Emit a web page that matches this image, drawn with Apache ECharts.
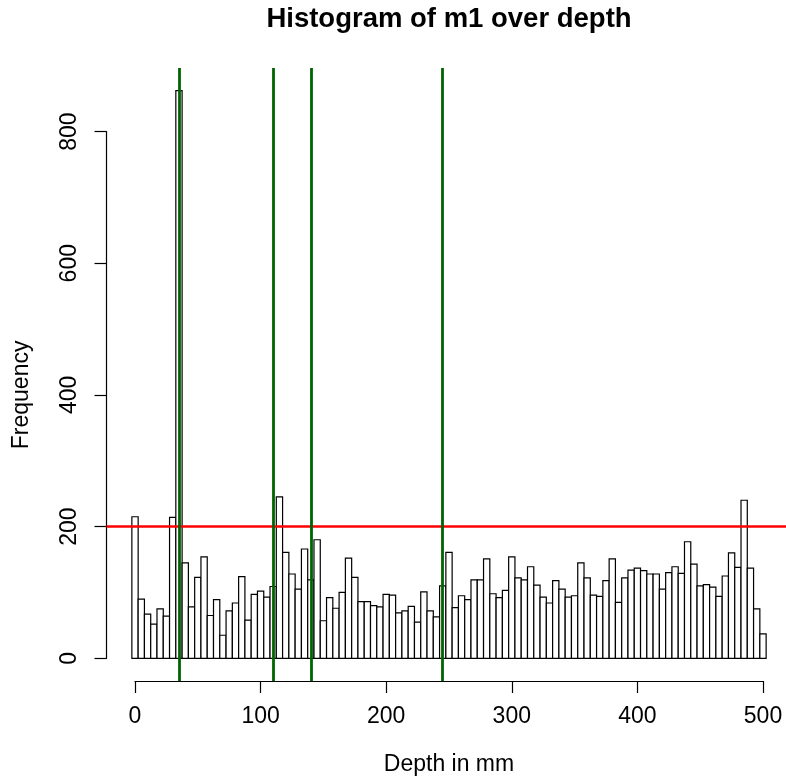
<!DOCTYPE html>
<html>
<head>
<meta charset="utf-8">
<script src="https://cdn.jsdelivr.net/npm/echarts@6/dist/echarts.min.js"></script>
<style>
html,body{margin:0;padding:0;background:#fff;}
#chart{width:786px;height:778px;}
</style>
</head>
<body>
<div id="chart"></div>
<script>
// ---- data ----
const titleText = "Histogram of m1 over depth";
const xAxisTitle = "Depth in mm";
const yAxisTitle = "Frequency";
const binWidth = 5;
// bin centers 0,5,...,500
const binCenters = [0,5,10,15,20,25,30,35,40,45,50,55,60,65,70,75,80,85,90,95,
  100,105,110,115,120,125,130,135,140,145,150,155,160,165,170,175,180,185,190,195,
  200,205,210,215,220,225,230,235,240,245,250,255,260,265,270,275,280,285,290,295,
  300,305,310,315,320,325,330,335,340,345,350,355,360,365,370,375,380,385,390,395,
  400,405,410,415,420,425,430,435,440,445,450,455,460,465,470,475,480,485,490,495,500];
const frequencies = [215,90,67,52,75,64,214,862,145,78,123,154,65,89,35,72,84,124,58,97,
  102,93,109,245,161,128,105,166,119,180,57,92,76,100,152,123,86,86,80,78,
  97,96,69,72,79,55,101,72,63,110,161,77,95,89,119,119,151,98,92,103,
  154,122,119,139,111,93,84,118,105,93,95,145,122,96,94,118,151,85,122,134,
  137,133,128,128,105,130,139,129,177,143,110,112,108,94,125,160,138,240,137,75,37];
const hLines = [200];
const vLines = [35, 110, 140, 245];
const xTicks = {min: 0, max: 500, interval: 100};
const yTicks = {min: 0, max: 800, interval: 200};

// ---- layout (plot region like R's usr) ----
const L = 106.5, T = 68, W = 679.5, H = 613;
const sx = 1.25596;           // px per x unit
const xMin = -22.7;
const xUsr = [xMin, xMin + W / sx];
const yUsr = [-34.48, 896.48];
const sy = H / (yUsr[1] - yUsr[0]);
const g1 = {
  left: L + (xTicks.min - xUsr[0]) * sx,
  width: (xTicks.max - xTicks.min) * sx,
  top: T + (yUsr[1] - yTicks.max) * sy,
  height: (yTicks.max - yTicks.min) * sy
};
const xOff = (yTicks.min - yUsr[0]) * sy;
const yOff = (xTicks.min - xUsr[0]) * sx;

const FONT = "'Liberation Sans', Arial, Helvetica, sans-serif";
const chart = echarts.init(document.getElementById('chart'), null, {renderer: 'canvas'});

const histData = binCenters.map((c, i) => [c, frequencies[i]]);

chart.setOption({
  animation: false,
  backgroundColor: '#ffffff',
  graphic: [{
    type: 'text',
    x: 449,
    y: 19,
    style: {
      text: titleText,
      font: "bold 27.5px " + FONT,
      fill: '#000',
      textAlign: 'center',
      textVerticalAlign: 'middle'
    }
  }],
  grid: [
    {left: L, top: T, width: W, height: H, containLabel: false, outerBoundsMode: 'none'},
    {left: g1.left, top: g1.top, width: g1.width, height: g1.height, containLabel: false, outerBoundsMode: 'none'}
  ],
  xAxis: [
    {gridIndex: 0, type: 'value', min: xUsr[0], max: xUsr[1], show: false},
    {gridIndex: 1, type: 'value', min: xTicks.min, max: xTicks.max, interval: xTicks.interval,
     offset: xOff, position: 'bottom',
     name: xAxisTitle, nameLocation: 'middle', nameGap: 72,
     nameTextStyle: {fontFamily: FONT, fontSize: 23, color: '#000'},
     axisLine: {show: true, onZero: false, lineStyle: {color: '#000', width: 1.2}},
     axisTick: {show: true, length: 12, lineStyle: {color: '#000', width: 1.2}},
     axisLabel: {show: true, margin: 24, fontFamily: FONT, fontSize: 23, color: '#000'},
     splitLine: {show: false}}
  ],
  yAxis: [
    {gridIndex: 0, type: 'value', min: yUsr[0], max: yUsr[1], show: false},
    {gridIndex: 1, type: 'value', min: yTicks.min, max: yTicks.max, interval: yTicks.interval,
     offset: yOff, position: 'left',
     name: yAxisTitle, nameLocation: 'middle', nameGap: 73, nameRotate: 90,
     nameTextStyle: {fontFamily: FONT, fontSize: 23, color: '#000'},
     axisLine: {show: true, onZero: false, lineStyle: {color: '#000', width: 1.2}},
     axisTick: {show: true, length: 12, lineStyle: {color: '#000', width: 1.2}},
     axisLabel: {show: true, margin: 25, rotate: 90, fontFamily: FONT, fontSize: 23, color: '#000'},
     splitLine: {show: false}}
  ],
  series: [
    {
      type: 'custom',
      xAxisIndex: 0, yAxisIndex: 0,
      data: histData,
      clip: false,
      z: 2,
      renderItem: function (params, api) {
        const c = api.value(0), v = api.value(1);
        const p0 = api.coord([c - binWidth / 2, 0]);
        const p1 = api.coord([c + binWidth / 2, v]);
        return {
          type: 'rect',
          shape: {x: p0[0], y: p1[1], width: p1[0] - p0[0], height: p0[1] - p1[1]},
          style: {fill: '#ffffff', stroke: '#000000', lineWidth: 1.2}
        };
      }
    },
    {
      type: 'line', xAxisIndex: 0, yAxisIndex: 0, data: [], z: 3,
      markLine: {
        silent: true, symbol: 'none', animation: false,
        label: {show: false},
        lineStyle: {color: '#ff0000', width: 2.6, type: 'solid'},
        data: hLines.map(v => ({yAxis: v}))
      }
    },
    {
      type: 'line', xAxisIndex: 0, yAxisIndex: 0, data: [], z: 4,
      markLine: {
        silent: true, symbol: 'none', animation: false,
        label: {show: false},
        lineStyle: {color: '#006400', width: 2.8, type: 'solid'},
        data: vLines.map(v => ({xAxis: v}))
      }
    }
  ]
});
</script>
</body>
</html>
